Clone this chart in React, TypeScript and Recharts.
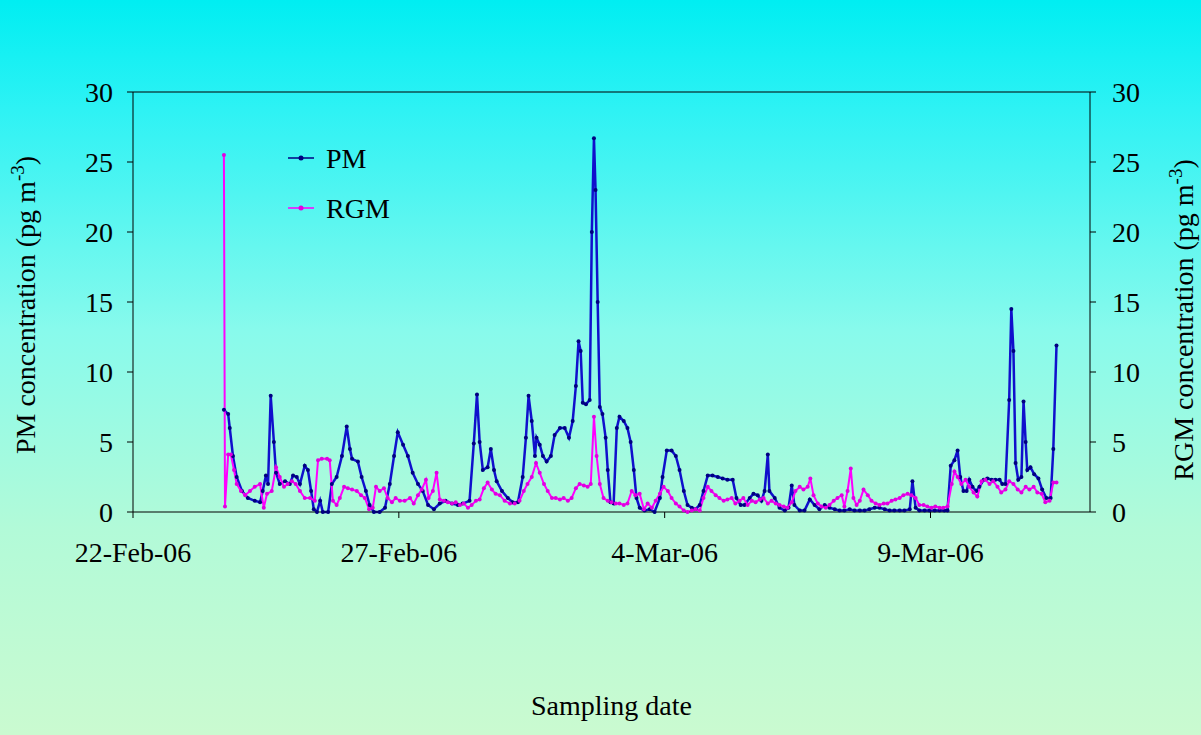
import React from "react";
import { LineChart, Line, XAxis, YAxis, ReferenceLine } from "recharts";

// time = days since 22-Feb-06 00:00
const pmTime = [
  1.71, 1.79, 1.82, 1.88, 1.95, 2.05, 2.16, 2.29, 2.39, 2.44, 2.5, 2.54, 2.59, 2.65, 2.69, 2.76,
  2.86, 2.95, 3.01, 3.08, 3.14, 3.23, 3.29, 3.35, 3.4, 3.46, 3.52, 3.57, 3.67, 3.74, 3.83, 3.93,
  4.02, 4.08, 4.12, 4.23, 4.3, 4.38, 4.45, 4.53, 4.64, 4.74, 4.83, 4.91, 4.98, 5.08, 5.17, 5.26,
  5.36, 5.45, 5.55, 5.66, 5.77, 5.88, 6.0, 6.11, 6.2, 6.33, 6.41, 6.47, 6.52, 6.58, 6.67, 6.73,
  6.79, 6.84, 6.94, 7.05, 7.14, 7.24, 7.33, 7.39, 7.44, 7.5, 7.56, 7.59, 7.65, 7.71, 7.78, 7.86,
  7.93, 8.03, 8.12, 8.2, 8.27, 8.33, 8.38, 8.42, 8.46, 8.52, 8.59, 8.63, 8.67, 8.7, 8.74, 8.78,
  8.83, 8.89, 8.93, 8.98, 9.04, 9.1, 9.15, 9.23, 9.3, 9.36, 9.42, 9.47, 9.53, 9.62, 9.72, 9.81,
  9.91, 9.96, 10.04, 10.13, 10.21, 10.28, 10.36, 10.43, 10.51, 10.58, 10.66, 10.73, 10.81, 10.9,
  11.0, 11.09, 11.18, 11.28, 11.35, 11.43, 11.5, 11.6, 11.67, 11.75, 11.82, 11.88, 11.94, 11.97,
  12.07, 12.16, 12.26, 12.33, 12.39, 12.44, 12.54, 12.63, 12.73, 12.82, 12.91, 13.01, 13.1, 13.2,
  13.29, 13.38, 13.48, 13.57, 13.67, 13.76, 13.85, 13.95, 14.04, 14.14, 14.23, 14.32, 14.42, 14.51,
  14.61, 14.66, 14.72, 14.79, 14.89, 14.98, 15.08, 15.17, 15.26, 15.32, 15.38, 15.45, 15.51, 15.56,
  15.62, 15.68, 15.73, 15.79, 15.86, 15.92, 16.0, 16.07, 16.15, 16.22, 16.3, 16.35, 16.41, 16.48,
  16.52, 16.56, 16.6, 16.65, 16.71, 16.75, 16.79, 16.82, 16.88, 16.95, 17.03, 17.1, 17.18, 17.26,
  17.31, 17.37,
];
const pmValues = [
  7.3, 7.0, 6.0, 4.0, 2.5, 1.5, 1.0, 0.8, 0.7, 1.5, 2.6, 2.0, 8.3, 5.0, 2.8, 2.0,
  2.2, 2.0, 2.6, 2.5, 2.0, 3.3, 3.0, 1.5, 0.2, 0.0, 0.8, 0.0, 0.0, 2.0, 2.5, 4.0,
  6.1, 4.5, 3.8, 3.6, 2.5, 1.5, 0.5, 0.0, 0.0, 0.3, 2.0, 4.0, 5.7, 4.8, 4.0, 2.8,
  2.0, 1.5, 0.5, 0.2, 0.6, 0.8, 0.6, 0.5, 0.6, 0.8, 4.9, 8.4, 5.0, 3.0, 3.2, 4.5,
  3.0, 2.2, 1.5, 1.0, 0.7, 0.7, 2.5, 5.3, 8.3, 6.5, 4.0, 5.3, 4.8, 4.0, 3.6, 4.0,
  5.5, 6.0, 6.0, 5.3, 6.5, 9.0, 12.2, 11.5, 7.8, 7.7, 8.0, 20.0, 26.7, 23.0, 15.0, 7.5,
  7.0, 5.3, 3.0, 0.7, 0.6, 6.0, 6.8, 6.5, 6.0, 5.0, 3.0, 1.0, 0.3, 0.1, 0.2, 0.0,
  1.0, 2.5, 4.4, 4.4, 4.0, 3.0, 1.5, 0.5, 0.3, 0.2, 0.5, 1.5, 2.6, 2.6,
  2.5, 2.4, 2.3, 2.3, 1.0, 0.5, 0.5, 1.0, 1.3, 1.2, 0.8, 1.5, 4.1, 1.5,
  1.0, 0.3, 0.1, 0.3, 1.9, 0.5, 0.1, 0.1, 0.9, 0.5, 0.2, 0.5, 0.3, 0.2,
  0.1, 0.1, 0.2, 0.1, 0.1, 0.1, 0.2, 0.3, 0.3, 0.2, 0.1, 0.1, 0.1, 0.1,
  0.2, 2.2, 0.3, 0.1, 0.1, 0.1, 0.1, 0.1, 0.1, 0.1, 3.3, 3.7, 4.4, 2.5,
  1.5, 1.5, 2.3, 1.8, 1.5, 1.8, 2.3, 2.4, 2.3, 2.3, 2.3, 2.0, 2.0, 8.0,
  14.5, 11.5, 3.5, 2.3, 2.5, 7.9, 5.0, 3.0, 3.2, 2.7, 2.4, 1.6, 1.0, 1.0,
  4.5, 11.9,
];

const rgmTime = [
  1.71, 1.73, 1.79, 1.84, 1.9, 1.95, 2.03, 2.11, 2.2, 2.29, 2.39, 2.46, 2.52, 2.61, 2.69, 2.76,
  2.84, 2.91, 2.99, 3.06, 3.14, 3.23, 3.33, 3.42, 3.48, 3.55, 3.65, 3.7, 3.76, 3.83, 3.89, 3.97,
  4.04, 4.12, 4.21, 4.29, 4.36, 4.44, 4.51, 4.57, 4.64, 4.72, 4.79, 4.87, 4.94, 5.02, 5.11, 5.21,
  5.28, 5.36, 5.43, 5.51, 5.56, 5.64, 5.71, 5.77, 5.85, 5.92, 6.0, 6.07, 6.15, 6.22, 6.3, 6.37,
  6.45, 6.52, 6.6, 6.67, 6.75, 6.82, 6.9, 6.99, 7.09, 7.18, 7.27, 7.35, 7.42, 7.5, 7.58, 7.65,
  7.73, 7.8, 7.88, 7.95, 8.03, 8.1, 8.18, 8.25, 8.33, 8.4, 8.48, 8.55, 8.61, 8.67, 8.72, 8.78,
  8.85, 8.93, 9.0, 9.08, 9.15, 9.23, 9.3, 9.38, 9.45, 9.53, 9.61, 9.68, 9.76, 9.83, 9.91, 9.98,
  10.06, 10.13, 10.21, 10.28, 10.36, 10.43, 10.51, 10.58, 10.66, 10.73, 10.81, 10.88, 10.96, 11.03,
  11.11, 11.18, 11.26, 11.33, 11.41, 11.48, 11.56, 11.64, 11.71, 11.79, 11.86, 11.94, 12.01, 12.09,
  12.16, 12.24, 12.31, 12.39, 12.46, 12.54, 12.61, 12.69, 12.74, 12.8, 12.88, 12.95, 13.03, 13.1,
  13.18, 13.25, 13.33, 13.38, 13.44, 13.5, 13.55, 13.61, 13.67, 13.74, 13.82, 13.89, 13.97, 14.04,
  14.12, 14.19, 14.27, 14.34, 14.42, 14.49, 14.57, 14.64, 14.72, 14.79, 14.87, 14.94, 15.02, 15.09,
  15.17, 15.24, 15.32, 15.4, 15.45, 15.51, 15.58, 15.66, 15.73, 15.81, 15.88, 15.96, 16.03, 16.11,
  16.18, 16.26, 16.33, 16.41, 16.48, 16.56, 16.64, 16.71, 16.79, 16.86, 16.94, 17.01, 17.09, 17.16,
  17.24, 17.31, 17.37,
];
const rgmValues = [
  25.5, 0.4, 4.1, 4.1, 3.0, 2.0, 1.5, 1.2, 1.5, 1.8, 2.0, 0.3, 1.3, 1.5, 3.2, 2.5,
  1.8, 2.0, 2.2, 2.0, 1.5, 1.0, 1.0, 0.8, 3.7, 3.8, 3.8, 3.7, 0.8, 0.5, 1.0, 1.8,
  1.7, 1.6, 1.5, 1.2, 1.0, 0.2, 0.3, 1.8, 1.5, 1.7, 1.0, 0.7, 1.0, 0.8, 0.8, 1.0,
  0.6, 1.2, 1.6, 2.3, 1.0, 1.5, 2.8, 0.9, 0.8, 0.7, 0.6, 0.7, 0.5, 0.6, 0.3, 0.5,
  0.8, 0.9, 1.7, 2.1, 1.6, 1.3, 1.2, 0.8, 0.6, 0.6, 0.8, 1.5, 2.0, 2.5, 3.5, 2.8,
  2.0, 1.5, 1.0, 1.0, 0.9, 1.0, 0.8, 1.0, 1.7, 2.0, 1.9, 1.8, 2.0, 6.8, 4.0, 2.0,
  1.0, 0.8, 0.7, 0.6, 0.6, 0.5, 0.6, 1.5, 1.2, 1.3, 0.2, 0.6, 0.3, 0.8, 1.3, 1.8,
  1.5, 1.0, 0.6, 0.4, 0.1, 0.0, 0.1, 0.2, 0.1, 1.0, 1.8, 1.5, 1.2, 1.0,
  0.8, 0.9, 1.0, 0.6, 0.8, 1.0, 0.5, 0.8, 0.7, 0.9, 1.0, 0.6, 0.8, 0.6,
  0.5, 0.4, 0.3, 0.7, 1.5, 1.8, 1.6, 1.8, 2.4, 1.2, 0.6, 0.4, 0.3, 0.5,
  0.8, 1.0, 1.2, 0.4, 1.5, 3.1, 1.0, 0.5, 0.8, 1.6, 1.2, 0.8, 0.6, 0.5,
  0.6, 0.6, 0.8, 0.9, 1.0, 1.2, 1.3, 1.2, 1.0, 0.5, 0.5, 0.4, 0.3, 0.4,
  0.3, 0.3, 0.4, 2.0, 2.9, 2.5, 2.0, 2.3, 1.8, 1.4, 1.1, 2.2, 2.3, 2.0,
  2.2, 1.8, 1.4, 1.6, 2.2, 2.0, 1.6, 1.4, 1.8, 1.6, 1.8, 1.4, 1.3, 0.7,
  0.8, 2.1, 2.1,
];

const dateTicks = [0, 5, 10, 15];
const dateLabels = ["22-Feb-06", "27-Feb-06", "4-Mar-06", "9-Mar-06"];
const concTicks = [0, 5, 10, 15, 20, 25, 30];

const pmData = pmTime.map((t, i) => ({ t, pm: pmValues[i] }));
const rgmData = rgmTime.map((t, i) => ({ t, rgm: rgmValues[i] }));

const FONT = "'Liberation Serif', 'Times New Roman', serif";
const PM_COLOR = "#1010cc";
const RGM_COLOR = "#ff00ff";
const FS = 28;

const tickStyle = { fill: "#000", fontSize: FS, fontFamily: FONT };

function LegendBox() {
  const items = [
    { name: "PM", dot: "#000080", line: "#000080" },
    { name: "RGM", dot: "#e000e0", line: RGM_COLOR },
  ];
  return (
    <svg width={160} height={100} style={{ position: "absolute", left: 284, top: 142 }}>
      {items.map((it, i) => (
        <g key={it.name} transform={`translate(0, ${16 + i * 50})`}>
          <line x1={4} x2={30} y1={0} y2={0} stroke={it.line} strokeWidth={1.5} />
          <circle cx={17} cy={0} r={2.5} fill={it.dot} />
          <text x={42} y={10} fontSize={FS} fontFamily={FONT} fill="#000">
            {it.name}
          </text>
        </g>
      ))}
    </svg>
  );
}

const titleStyle: React.CSSProperties = {
  position: "absolute",
  transform: "translate(-50%, -50%) rotate(-90deg)",
  whiteSpace: "nowrap",
  fontSize: FS,
  lineHeight: 1,
  color: "#000",
};

export default function App() {
  return (
    <div
      style={{
        position: "relative",
        width: 1201,
        height: 735,
        background:
          "linear-gradient(to bottom, #00eef2 0%, #2ef2f4 15%, #88faec 45%, #b2fad8 72%, #cafad0 100%)",
        fontFamily: FONT,
      }}
    >
      <style>{`body{margin:0}`}</style>
      <LineChart width={1201} height={735} margin={{ top: 92, right: 0, bottom: 0, left: 0 }}>
        <XAxis
          dataKey="t"
          type="number"
          domain={[0, 18]}
          ticks={dateTicks}
          allowDataOverflow
          tickFormatter={(v) => dateLabels[dateTicks.indexOf(v)] ?? ""}
          tick={tickStyle}
          tickMargin={24}
          tickSize={6}
          axisLine={{ stroke: "#000", strokeWidth: 1 }}
          tickLine={{ stroke: "#000" }}
          height={223}
          label={{
            value: "Sampling date",
            position: "insideBottom",
            offset: 20,
            style: { fill: "#000", fontSize: FS, fontFamily: FONT },
          }}
        />
        <YAxis
          yAxisId="left"
          domain={[0, 30]}
          ticks={concTicks}
          width={133}
          tick={tickStyle}
          tickSize={6}
          tickMargin={14}
          axisLine={{ stroke: "#000" }}
          tickLine={{ stroke: "#000" }}
        />
        <YAxis
          yAxisId="right"
          orientation="right"
          domain={[0, 30]}
          ticks={concTicks}
          width={111}
          tick={{ ...tickStyle, textAnchor: "start" }}
          tickSize={6}
          tickMargin={16}
          axisLine={{ stroke: "#000" }}
          tickLine={{ stroke: "#000" }}
        />
        <ReferenceLine yAxisId="left" y={30} stroke="#000" />
        <Line
          yAxisId="left"
          data={pmData}
          dataKey="pm"
          name="PM"
          type="linear"
          stroke={PM_COLOR}
          strokeWidth={2.5}
          dot={{ r: 2, fill: "#000080", stroke: "none" }}
          isAnimationActive={false}
        />
        <Line
          yAxisId="right"
          data={rgmData}
          dataKey="rgm"
          name="RGM"
          type="linear"
          stroke={RGM_COLOR}
          strokeWidth={2}
          dot={{ r: 2, fill: "#e000e0", stroke: "none" }}
          isAnimationActive={false}
        />
      </LineChart>
      <LegendBox />
      <div style={{ ...titleStyle, left: 24, top: 305 }}>
        PM concentration (pg m<sup style={{ fontSize: 19 }}>-3</sup>)
      </div>
      <div style={{ ...titleStyle, left: 1182, top: 320 }}>
        RGM concentration (pg m<sup style={{ fontSize: 19 }}>-3</sup>)
      </div>
    </div>
  );
}
